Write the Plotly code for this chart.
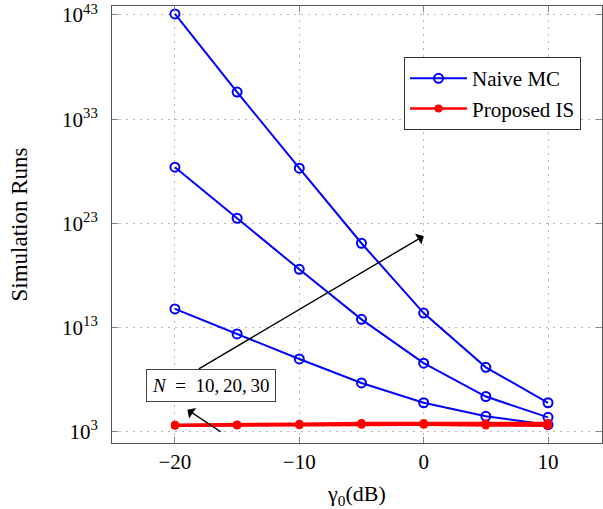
import numpy as np
import plotly.graph_objects as go

gamma_db = [-20, -15, -10, -5, 0, 5, 10]

# log10 of simulation runs
naive_n10 = [14.8, 12.4, 10.0, 7.7, 5.8, 4.5, 3.7]
naive_n20 = [28.4, 23.5, 18.6, 13.8, 9.6, 6.4, 4.4]
naive_n30 = [43.1, 35.6, 28.3, 21.1, 14.4, 9.2, 5.8]

is_n10 = [3.60, 3.62, 3.65, 3.68, 3.68, 3.62, 3.60]
is_n20 = [3.65, 3.68, 3.72, 3.78, 3.75, 3.72, 3.68]
is_n30 = [3.70, 3.72, 3.78, 3.85, 3.85, 3.80, 3.85]

ytick_exp = [3, 13, 23, 33, 43]
xtick_vals = [-20, -10, 0, 10]
xtick_text = ["\u221220", "\u221210", "0", "10"]

FONT = "Liberation Serif"
BLUE = "#0000ff"
RED = "#ff0000"

fig = go.Figure()

for i, s in enumerate([naive_n10, naive_n20, naive_n30]):
    fig.add_trace(go.Scatter(
        x=gamma_db, y=np.power(10.0, s), mode="lines+markers",
        line=dict(color=BLUE, width=2),
        marker=dict(symbol="circle-open", size=9, color=BLUE, line=dict(width=2, color=BLUE)),
        name="Naive MC", showlegend=(i == 0), legendgroup="mc"))

for i, s in enumerate([is_n10, is_n20, is_n30]):
    fig.add_trace(go.Scatter(
        x=gamma_db, y=np.power(10.0, s), mode="lines+markers",
        line=dict(color=RED, width=2.5),
        marker=dict(symbol="circle", size=8, color=RED),
        name="Proposed IS", showlegend=(i == 0), legendgroup="is"))

# arrows and label
fig.add_annotation(x=0, y=21.8, ax=-18.2, ay=8.96, xref="x", yref="y", axref="x", ayref="y",
                   text="", showarrow=True, arrowhead=1, arrowsize=1.5, arrowwidth=1.4, arrowcolor="black")
fig.add_annotation(x=-19.0, y=5.13, ax=-16.2, ay=2.92, xref="x", yref="y", axref="x", ayref="y",
                   text="", showarrow=True, arrowhead=1, arrowsize=1.5, arrowwidth=1.4, arrowcolor="black")
fig.add_annotation(x=-17.1, y=7.5, xref="x", yref="y", showarrow=False,
                   text="<i>N</i>\u2002=\u200210,\u200920,\u200930", font=dict(family=FONT, size=19, color="black"),
                   bordercolor="#444", borderwidth=1, borderpad=5, bgcolor="white")

fig.update_layout(
    width=603, height=509,
    margin=dict(l=112, r=1, t=6, b=66),
    paper_bgcolor="white", plot_bgcolor="white",
    font=dict(family=FONT, size=21, color="black"),
    legend=dict(x=0.596, y=0.883, xanchor="left", yanchor="top",
                bordercolor="#333", borderwidth=1, bgcolor="white",
                font=dict(family=FONT, size=21), itemwidth=57, tracegroupgap=0),
    showlegend=True,
)

GRID_DASH = "1.5px,5.5px"

fig.update_xaxes(range=[-25.06, 14.34], tickvals=xtick_vals, ticktext=xtick_text,
                 showline=True, linecolor="#555", linewidth=1, mirror="allticks",
                 ticks="inside", ticklen=6, tickcolor="#888",
                 showgrid=True, gridcolor="#b8b8b8", griddash=GRID_DASH, gridwidth=1,
                 zeroline=False,
                 title=dict(text="\u03b3<sub>0</sub>(dB)", font=dict(family=FONT, size=22), standoff=14),
                 tickfont=dict(family=FONT, size=21))

fig.update_yaxes(type="log", range=[1.94, 43.86],
                 tickvals=[10.0 ** e for e in ytick_exp],
                 ticktext=["10<sup>%d</sup>" % e for e in ytick_exp],
                 showline=True, linecolor="#555", linewidth=1, mirror="allticks",
                 ticks="inside", ticklen=6, tickcolor="#888",
                 showgrid=True, gridcolor="#b8b8b8", griddash=GRID_DASH, gridwidth=1,
                 zeroline=False, ticklabelstandoff=9,
                 title=dict(text="Simulation Runs", font=dict(family=FONT, size=23), standoff=28),
                 tickfont=dict(family=FONT, size=21))

fig.write_html("out.html")
